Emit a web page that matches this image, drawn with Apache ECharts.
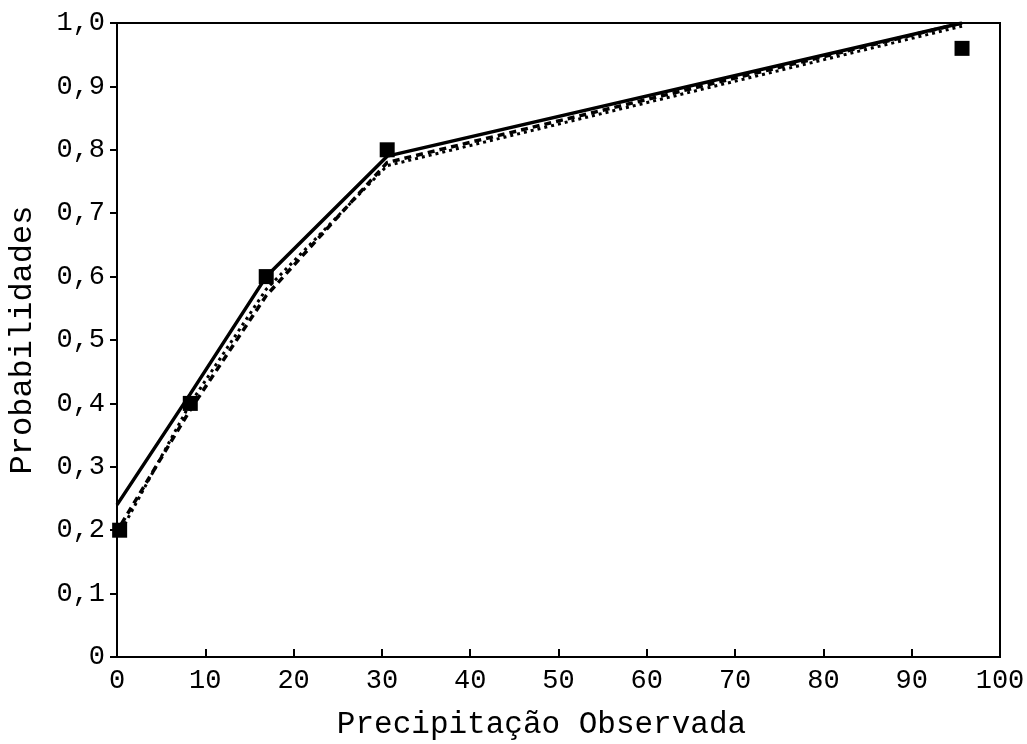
<!DOCTYPE html>
<html>
<head>
<meta charset="utf-8">
<script src="https://cdn.jsdelivr.net/npm/echarts@6/dist/echarts.min.js"></script>
<style>
  html, body { margin: 0; padding: 0; background: #fff; }
  #chart { width: 1027px; height: 744px; }
</style>
</head>
<body>
<div id="chart"></div>
<script>
  // observed points (precipitação, probabilidade)
  var obsX = [0.3, 8.3, 16.9, 30.6, 95.7];
  var obsY = [0.20, 0.40, 0.60, 0.80, 0.96];
  // fitted curves
  var solidX = [0, 8.3, 16.9, 30.6, 95.7];
  var solidY = [0.24, 0.415, 0.60, 0.79, 1.0];
  var dashX = [0.5, 8.3, 16.9, 30.6, 95.7];
  var dashY = [0.21, 0.39, 0.57, 0.78, 1.0];
  var dotX = [0.5, 8.3, 16.9, 30.6, 95.7];
  var dotY = [0.20, 0.40, 0.58, 0.775, 0.995];

  function pairs(xs, ys) {
    return xs.map(function (x, i) { return [x, ys[i]]; });
  }

  var font = '"Liberation Mono", "DejaVu Sans Mono", monospace';
  var chart = echarts.init(document.getElementById('chart'));
  chart.setOption({
    animation: false,
    backgroundColor: '#fff',
    grid: {
      left: 117, right: 27, top: 23, bottom: 87, outerBoundsMode: 'none',
      show: true, borderColor: '#000', borderWidth: 2
    },
    xAxis: {
      type: 'value', min: 0, max: 100, interval: 10,
      name: 'Precipitação Observada', nameLocation: 'middle', nameGap: 52,
      nameTextStyle: { fontFamily: font, fontSize: 31, color: '#000', padding: [0, 34, 0, 0] },
      axisLine: { lineStyle: { color: '#000', width: 2 } },
      axisTick: { inside: true, length: 8, lineStyle: { color: '#000', width: 2 } },
      axisLabel: { fontFamily: font, fontSize: 27, color: '#000', margin: 10 },
      splitLine: { show: false }
    },
    yAxis: {
      type: 'value', min: 0, max: 1, interval: 0.1,
      name: 'Probabilidades', nameLocation: 'middle', nameGap: 78,
      nameTextStyle: { fontFamily: font, fontSize: 32, color: '#000' },
      axisLine: { lineStyle: { color: '#000', width: 2 } },
      axisTick: { length: 7, lineStyle: { color: '#000', width: 2 } },
      axisLabel: {
        fontFamily: font, fontSize: 27, color: '#000', margin: 12,
        formatter: function (v) { return v === 0 ? '0' : v.toFixed(1).replace('.', ','); }
      },
      splitLine: { show: false }
    },
    series: [
      {
        type: 'line', data: pairs(solidX, solidY), symbol: 'none',
        lineStyle: { color: '#000', width: 3.5, type: 'solid' }
      },
      {
        type: 'line', data: pairs(dashX, dashY), symbol: 'none',
        lineStyle: { color: '#000', width: 3.5, type: [7, 5] }
      },
      {
        type: 'line', data: pairs(dotX, dotY), symbol: 'none',
        lineStyle: { color: '#000', width: 3, type: [3, 4] }
      },
      {
        type: 'scatter', data: pairs(obsX, obsY), symbol: 'rect', symbolSize: 15,
        itemStyle: { color: '#000', opacity: 1 }
      }
    ]
  });
</script>
</body>
</html>
